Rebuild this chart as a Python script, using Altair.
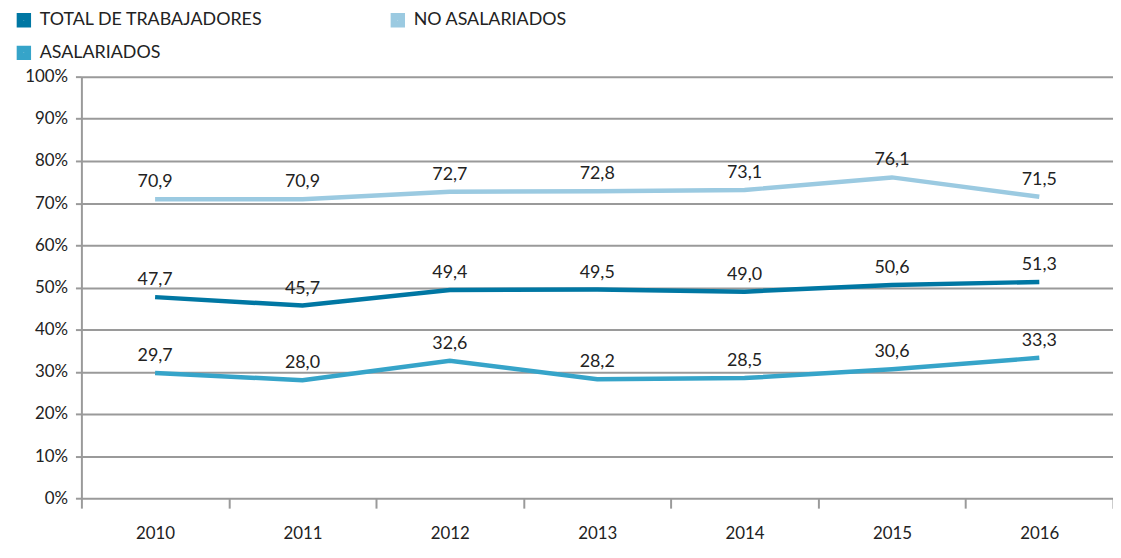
import altair as alt
import pandas as pd

years = ["2010", "2011", "2012", "2013", "2014", "2015", "2016"]
total = [47.7, 45.7, 49.4, 49.5, 49.0, 50.6, 51.3]
no_asal = [70.9, 70.9, 72.7, 72.8, 73.1, 76.1, 71.5]
asal = [29.7, 28.0, 32.6, 28.2, 28.5, 30.6, 33.3]

series = ["TOTAL DE TRABAJADORES", "NO ASALARIADOS", "ASALARIADOS"]
colors = ["#0077a3", "#9bcae1", "#36a4c9"]

rows = []
for name, vals in zip(series, [total, no_asal, asal]):
    for y, v in zip(years, vals):
        rows.append({"year": y, "value": v, "serie": name,
                     "label": f"{v:.1f}".replace(".", ",")})
df = pd.DataFrame(rows)

FONT = "Lato"
GRID = "#9a9a9a"

xscale = alt.Scale(type="band", paddingInner=0, paddingOuter=0)
x = alt.X("year:N", title=None, sort=years, scale=xscale,
          axis=alt.Axis(tickBand="extent", tickSize=10, tickColor=GRID, tickWidth=2,
                        domain=False, labelAngle=0, labelFontSize=17,
                        labelFont=FONT, labelColor="#222", labelPadding=18, grid=False))
y = alt.Y("value:Q", title=None,
          scale=alt.Scale(domain=[0, 100], nice=False),
          axis=alt.Axis(values=list(range(0, 101, 10)), labelExpr="datum.value + '%'",
                        gridColor=GRID, gridWidth=2, tickColor=GRID, tickWidth=2,
                        tickSize=6, domainColor=GRID, domainWidth=2, labelFontSize=17,
                        labelFont=FONT, labelColor="#222", labelPadding=8))
color = alt.Color("serie:N", sort=series,
                  scale=alt.Scale(domain=series, range=colors),
                  legend=alt.Legend(title=None, orient="none", legendX=-67, legendY=-66,
                                    columns=2, direction="horizontal",
                                    symbolType="square", symbolSize=56,
                                    symbolStrokeWidth=7, labelFontSize=18, labelFont=FONT,
                                    labelColor="#222", columnPadding=118, rowPadding=-3,
                                    gridAlign="all", labelLimit=400, labelOffset=7))

base = alt.Chart(df)
lines = base.mark_line(strokeWidth=4.5).encode(x=x, y=y, color=color)
texts = base.mark_text(dy=-17, fontSize=18, font=FONT, color="#222").encode(
    x=alt.X("year:N", sort=years, scale=xscale), y="value:Q", text="label:N")

chart = alt.layer(lines, texts).properties(
    width=1040, height=425,
    autosize=alt.AutoSizeParams(type="none"),
    padding={"left": 74, "top": 67, "right": 0, "bottom": 50},
).configure_view(stroke=None)

chart.save("out.html", embed_options={"renderer": "svg", "actions": False})
